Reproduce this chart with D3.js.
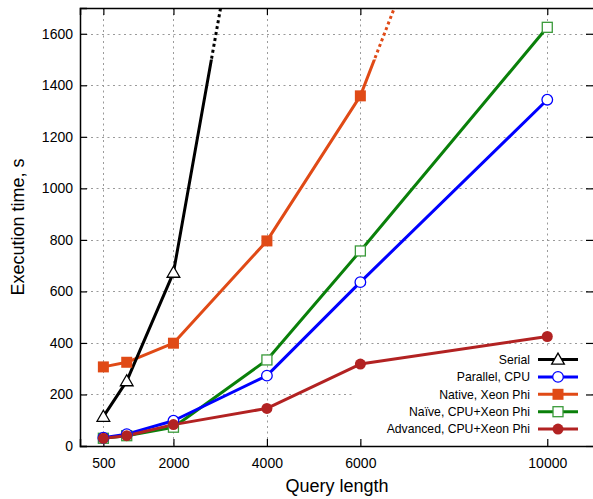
<!DOCTYPE html>
<html><head><meta charset="utf-8">
<script src="https://cdn.jsdelivr.net/npm/d3@7"></script>
<style>body{margin:0;background:#fff}svg{display:block;font-family:"Liberation Sans",Arial,sans-serif}</style>
</head><body><svg id="c" width="593" height="499"></svg>
<script>
const queryLengths = [500, 1000, 2000, 4000, 6000, 10000];
const xTickValues = [500, 2000, 4000, 6000, 10000];
const yTickValues = [0, 200, 400, 600, 800, 1000, 1200, 1400, 1600];
const serialValues   = [114, 252, 673, 2710, null, null];
const parallelValues = [32, 46, 98, 273, 636, 1344];
const nativeValues   = [307, 325, 399, 796, 1359, 3235];
const naiveValues    = [30, 40, 73, 334, 757, 1625];
const advancedValues = [30, 40, 83, 146, 318, 425];
const seriesNames = ["Serial", "Parallel, CPU", "Native, Xeon Phi", "Naïve, CPU+Xeon Phi", "Advanced, CPU+Xeon Phi"];
const dottedAbove = 1500;

const series = [
  {name: seriesNames[0], values: serialValues, color: "#000000", marker: "triangle", dotted: true},
  {name: seriesNames[1], values: parallelValues, color: "#0000ff", marker: "circleOpen", dotted: false},
  {name: seriesNames[2], values: nativeValues, color: "#e04a16", marker: "squareFilled", dotted: true},
  {name: seriesNames[3], values: naiveValues, color: "#0a800a", marker: "squareOpen", dotted: false},
  {name: seriesNames[4], values: advancedValues, color: "#b22222", marker: "circleFilled", dotted: false}
];

const svg = d3.select("#c");
const L = 80, R = 594, T = 8, B = 446;
const x = d3.scaleLinear().domain([0, 11000]).range([L, R]);
const y = d3.scaleLinear().domain([0, 1700]).range([B, T]);

const defs = svg.append("defs");
defs.append("clipPath").attr("id", "plotClip").append("rect")
  .attr("x", L).attr("y", T).attr("width", R - L).attr("height", B - T);
defs.append("clipPath").attr("id", "solidClip").append("rect")
  .attr("x", L).attr("y", y(dottedAbove)).attr("width", R - L).attr("height", B - y(dottedAbove));
defs.append("clipPath").attr("id", "dotClip").append("rect")
  .attr("x", L).attr("y", T).attr("width", R - L).attr("height", y(dottedAbove) - T);

// grid
const grid = svg.append("g").attr("stroke", "#9a9a9a").attr("stroke-width", 1).attr("stroke-dasharray", "2,3.5");
yTickValues.filter(v => v > 0).forEach(v => {
  grid.append("line").attr("x1", L).attr("x2", R).attr("y1", Math.round(y(v)) + 0.5).attr("y2", Math.round(y(v)) + 0.5);
});
xTickValues.forEach(v => {
  grid.append("line").attr("y1", T).attr("y2", B).attr("x1", Math.round(x(v)) + 0.5).attr("x2", Math.round(x(v)) + 0.5);
});

// legend background (hides grid only)
svg.append("rect").attr("x", 354).attr("y", 347).attr("width", 236).attr("height", 92).attr("fill", "#fff");

// axes
const axL = svg.append("g").attr("transform", `translate(${L},0)`)
  .call(d3.axisLeft(y).tickValues(yTickValues).tickSize(-7).tickPadding(7).tickFormat(d3.format("d")));
const axB = svg.append("g").attr("transform", `translate(0,${B})`)
  .call(d3.axisBottom(x).tickValues(xTickValues).tickSize(-7).tickPadding(12).tickFormat(d3.format("d")));
const axT = svg.append("g").attr("transform", `translate(0,${T})`)
  .call(d3.axisTop(x).tickValues(xTickValues).tickSize(-7).tickFormat(""));
const axR = svg.append("g").attr("transform", `translate(${R - 1},0)`)
  .call(d3.axisRight(y).tickValues(yTickValues).tickSize(-7).tickFormat(""));
[axL, axB, axT, axR].forEach(a => {
  a.selectAll("text").attr("font-size", 14).attr("fill", "#000").attr("font-family", "Liberation Sans, Arial, sans-serif");
  a.selectAll("line").attr("stroke", "#000").attr("stroke-width", 1.2);
});
axR.select(".domain").remove();
[axL, axB, axT].forEach(a => a.select(".domain").attr("stroke", "#000").attr("stroke-width", 1.5));

// lines
const lineGen = d3.line().defined(d => d.v != null).x(d => x(d.q)).y(d => y(d.v));
const drawOrder = [2, 3, 1, 4, 0];
const linesG = svg.append("g").attr("clip-path", "url(#plotClip)");
drawOrder.forEach(i => {
  const s = series[i];
  const pts = queryLengths.map((q, k) => ({q, v: s.values[k]}));
  const solid = linesG.append("path").datum(pts).attr("d", lineGen).attr("fill", "none")
    .attr("stroke", s.color).attr("stroke-width", 3).attr("stroke-linejoin", "round");
  if (s.dotted) {
    solid.attr("clip-path", "url(#solidClip)");
    linesG.append("g").attr("clip-path", "url(#dotClip)").append("path").datum(pts).attr("d", lineGen).attr("fill", "none")
      .attr("stroke", s.color).attr("stroke-width", 3).attr("stroke-dasharray", "3,3");
  }
});

function marker(g, type, color, cx, cy) {
  if (type === "triangle") {
    g.append("path").attr("d", d3.symbol().type(d3.symbolTriangle).size(70)())
      .attr("transform", `translate(${cx},${cy + 1})`).attr("fill", "#fff").attr("stroke", color).attr("stroke-width", 1.3);
  } else if (type === "circleOpen") {
    g.append("circle").attr("cx", cx).attr("cy", cy).attr("r", 5.3).attr("fill", "#fff").attr("stroke", color).attr("stroke-width", 1.3);
  } else if (type === "squareFilled") {
    g.append("rect").attr("x", cx - 5.5).attr("y", cy - 5.5).attr("width", 11).attr("height", 11).attr("fill", color);
  } else if (type === "squareOpen") {
    g.append("rect").attr("x", cx - 5).attr("y", cy - 5).attr("width", 10).attr("height", 10).attr("fill", "#fff").attr("stroke", "#3a9a3a").attr("stroke-width", 1.3);
  } else {
    g.append("circle").attr("cx", cx).attr("cy", cy).attr("r", 5.5).attr("fill", color);
  }
}
const markG = svg.append("g");
drawOrder.forEach(i => {
  const s = series[i];
  queryLengths.forEach((q, k) => {
    const v = s.values[k];
    if (v != null && v <= 1700) marker(markG, s.marker, s.color, x(q), y(v));
  });
});

// legend
const lg = svg.append("g");
series.forEach((s, i) => {
  const cy = 359.5 + i * 17.4;
  lg.append("text").attr("x", 530).attr("y", cy + 4.3).attr("text-anchor", "end").attr("font-size", 12.2).text(s.name);
  lg.append("line").attr("x1", 538).attr("x2", 578).attr("y1", cy).attr("y2", cy).attr("stroke", s.color).attr("stroke-width", 3);
  marker(lg, s.marker, s.color, 558, cy);
});

// titles
svg.append("text").attr("x", (L + R) / 2).attr("y", 492).attr("text-anchor", "middle").attr("font-size", 18).text("Query length");
svg.append("text").attr("transform", `translate(24,${(T + B) / 2}) rotate(-90)`).attr("text-anchor", "middle").attr("font-size", 18).text("Execution time, s");
</script></body></html>
